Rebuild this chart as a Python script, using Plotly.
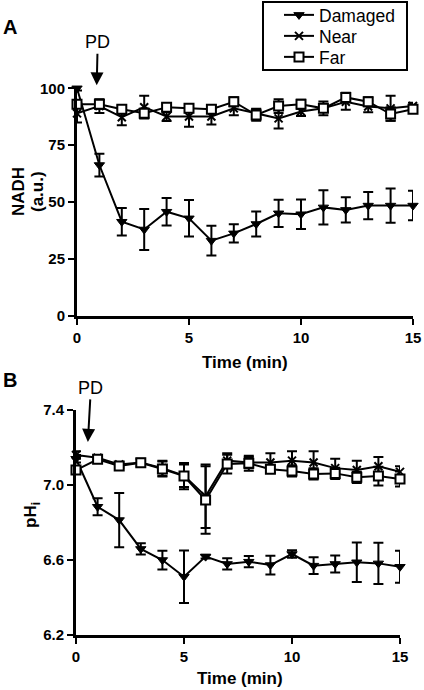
import plotly.graph_objects as go

time = list(range(16))

# Panel A: NADH (a.u.)
nadh_damaged = [100, 66.3, 41.4, 38, 45.8, 42.9, 33.1, 36.3, 40.4, 45.1, 44.7, 47.7, 46.6, 48.5, 48.5, 48.5]
nadh_damaged_err = [1, 5, 6, 9, 6, 8, 6.5, 4, 5.5, 6, 6.5, 7.5, 5.5, 6, 7.5, 6.5]
nadh_near = [89, 92.2, 87.3, 91.7, 87.6, 87.6, 87.6, 91.2, 89, 86.8, 89.8, 91.2, 94.1, 92, 91.2, 92.2]
nadh_near_err = [4, 3, 3.5, 5, 2, 4.5, 3.5, 3, 2, 4.5, 2, 3, 3.5, 2.5, 5.5, 1.5]
nadh_far = [93, 93, 90.8, 89, 91.7, 91.2, 90.8, 94.1, 88.3, 92.2, 93, 91.2, 96, 94.1, 88.7, 90.8]
nadh_far_err = [1, 2, 1.5, 2, 1.5, 1.5, 1.5, 2, 2.5, 3, 2, 1.5, 2, 2, 3, 1.5]

# Panel B: pHi
ph_damaged = [7.14, 6.884, 6.813, 6.659, 6.6, 6.511, 6.618, 6.579, 6.591, 6.573, 6.632, 6.57, 6.579, 6.588, 6.582, 6.564]
ph_damaged_err = [0.02, 0.045, 0.145, 0.03, 0.05, 0.14, 0.01, 0.03, 0.03, 0.05, 0.02, 0.045, 0.045, 0.105, 0.11, 0.085]
ph_near = [7.16, 7.145, 7.11, 7.12, 7.09, 7.05, 6.94, 7.13, 7.12, 7.12, 7.13, 7.12, 7.09, 7.08, 7.1, 7.07]
ph_near_err = [0.02, 0.01, 0.01, 0.02, 0.04, 0.06, 0.17, 0.04, 0.03, 0.05, 0.05, 0.06, 0.05, 0.05, 0.05, 0.03]
ph_far = [7.08, 7.137, 7.101, 7.119, 7.085, 7.048, 6.92, 7.112, 7.116, 7.084, 7.075, 7.059, 7.062, 7.041, 7.048, 7.032]
ph_far_err = [0.02, 0.015, 0.01, 0.02, 0.04, 0.07, 0.18, 0.05, 0.04, 0.02, 0.03, 0.03, 0.03, 0.03, 0.05, 0.04]

series_names = ["Damaged", "Near", "Far"]
nadh_ticks = [0, 25, 50, 75, 100]
ph_ticks = [6.2, 6.6, 7.0, 7.4]
time_ticks = [0, 5, 10, 15]

FONT = "Liberation Sans, Arial, sans-serif"
W, H = 424, 690

markers = [
    dict(symbol="triangle-down", size=9, color="black", line=dict(color="black", width=1)),
    dict(symbol="x-thin", size=8, color="black", line=dict(color="black", width=2)),
    dict(symbol="square", size=9, color="white", line=dict(color="black", width=2)),
]
legend_ids = ["legend", "legend2", "legend3"]
legend_y_px = [15, 36, 57]

fig = go.Figure()

panelA = [(nadh_damaged, nadh_damaged_err), (nadh_near, nadh_near_err), (nadh_far, nadh_far_err)]
panelB = [(ph_damaged, ph_damaged_err), (ph_near, ph_near_err), (ph_far, ph_far_err)]

for i, (ys, es) in enumerate(panelA):
    fig.add_trace(go.Scatter(
        x=time, y=ys, mode="lines+markers", name=series_names[i],
        line=dict(color="black", width=2), marker=markers[i],
        error_y=dict(type="data", array=es, color="black", thickness=2, width=5),
        xaxis="x", yaxis="y", legend=legend_ids[i], cliponaxis=False,
    ))
for i, (ys, es) in enumerate(panelB):
    fig.add_trace(go.Scatter(
        x=time, y=ys, mode="lines+markers", name=series_names[i], showlegend=False,
        line=dict(color="black", width=2), marker=markers[i],
        error_y=dict(type="data", array=es, color="black", thickness=2, width=5),
        xaxis="x2", yaxis="y2", cliponaxis=False,
    ))

axis_common = dict(
    showline=True, linecolor="black", linewidth=3, ticks="outside", ticklen=6,
    tickwidth=2, tickcolor="black", showgrid=False, zeroline=False,
    tickfont=dict(family=FONT, size=15, color="black", weight="bold"),
    mirror=False, automargin=False,
)

legend_layout = {}
for i, lid in enumerate(legend_ids):
    legend_layout[lid] = dict(
        x=279 / W, y=1 - legend_y_px[i] / H, xanchor="left", yanchor="middle",
        borderwidth=0, bgcolor="rgba(0,0,0,0)",
        font=dict(family=FONT, size=17.5, color="black"), itemwidth=30,
    )

fig.update_layout(
    width=W, height=H, margin=dict(l=0, r=0, t=0, b=0, autoexpand=False),
    paper_bgcolor="white", plot_bgcolor="white",
    font=dict(family=FONT, color="black"),
    xaxis=dict(domain=[77 / W, 413 / W], range=[0, 15], tickvals=time_ticks,
               anchor="y", **axis_common),
    yaxis=dict(domain=[1 - 316 / H, 1 - 88.3 / H], range=[0, 100], tickvals=nadh_ticks,
               anchor="x", **axis_common),
    xaxis2=dict(domain=[76 / W, 400 / W], range=[0, 15], tickvals=time_ticks,
                anchor="y2", **axis_common),
    yaxis2=dict(domain=[1 - 635 / H, 1 - 410 / H], range=[6.2, 7.4], tickvals=ph_ticks,
                tickformat=".1f", anchor="x2", **axis_common),
    showlegend=True,
    **legend_layout,
)

# legend frame
fig.add_shape(type="rect", xref="paper", yref="paper",
              x0=263 / W, x1=407 / W, y0=1 - 70 / H, y1=1 - 2 / H,
              line=dict(color="black", width=2), fillcolor="rgba(0,0,0,0)", layer="above")

bold = dict(family=FONT, size=17, color="black", weight="bold")
common_anno = dict(xref="paper", yref="paper", showarrow=False, xanchor="center", yanchor="middle")
annotations = [
    dict(text="A", x=10 / W, y=1 - 27 / H,
         font=dict(family=FONT, size=20, color="black", weight="bold"), **common_anno),
    dict(text="B", x=10 / W, y=1 - 380 / H,
         font=dict(family=FONT, size=20, color="black", weight="bold"), **common_anno),
    dict(text="Time (min)", x=245 / W, y=1 - 362 / H, font=bold, **common_anno),
    dict(text="Time (min)", x=240 / W, y=1 - 678 / H, font=bold, **common_anno),
    dict(text="NADH", x=19 / W, y=1 - 192 / H, textangle=-90, font=bold, **common_anno),
    dict(text="(a.u.)", x=38 / W, y=1 - 192 / H, textangle=-90, font=bold, **common_anno),
    dict(text="pH<sub>i</sub>", x=32 / W, y=1 - 515 / H, textangle=-90, font=bold, **common_anno),
    dict(text="PD", x=0.88, y=1.013, xref="x", yref="y domain", ax=1, ay=-43,
         showarrow=True, arrowhead=2, arrowsize=1.3, arrowwidth=2, arrowcolor="black",
         font=dict(family=FONT, size=18, color="black")),
    dict(text="PD", x=0.55, y=7.23, xref="x2", yref="y2", ax=3, ay=-54,
         showarrow=True, arrowhead=2, arrowsize=1.3, arrowwidth=2, arrowcolor="black",
         font=dict(family=FONT, size=18, color="black")),
]
fig.update_layout(annotations=annotations)

fig.write_html("out.html", config={"displayModeBar": False},
               post_script="document.body.style.margin='0';document.body.style.padding='0';")
